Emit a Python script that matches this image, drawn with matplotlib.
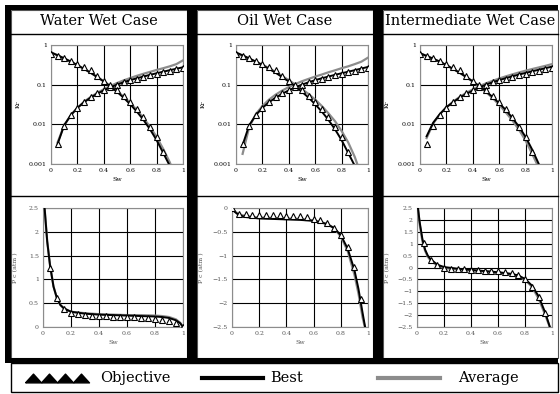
import matplotlib.pyplot as plt
from matplotlib.patches import Rectangle
from matplotlib.lines import Line2D

W, H = 560, 394

case_titles = ["Water Wet Case", "Oil Wet Case", "Intermediate Wet Case"]

# ---- relative permeability data ----
sw_krw = [0.05, 0.1, 0.15, 0.2, 0.25, 0.3, 0.35, 0.4, 0.45, 0.5,
          0.55, 0.6, 0.65, 0.7, 0.75, 0.8, 0.85, 0.9, 0.95, 1.0]
sw_kro = [0.0, 0.05, 0.1, 0.15, 0.2, 0.25, 0.3, 0.35, 0.4, 0.45,
          0.5, 0.55, 0.6, 0.65, 0.7, 0.75, 0.8, 0.85, 0.9, 0.95]

krw_obj = [0.0032, 0.009, 0.017, 0.026, 0.037, 0.048, 0.060, 0.073, 0.087, 0.100,
           0.115, 0.128, 0.142, 0.157, 0.172, 0.188, 0.205, 0.225, 0.245, 0.27]
kro_obj = [0.58, 0.52, 0.46, 0.40, 0.33, 0.28, 0.23, 0.17, 0.125, 0.097,
           0.075, 0.052, 0.037, 0.025, 0.015, 0.0087, 0.0049, 0.002]

krw_best = [
    [0.0032, 0.0095, 0.017, 0.026, 0.036, 0.047, 0.059, 0.072, 0.086, 0.10,
     0.115, 0.13, 0.145, 0.16, 0.177, 0.194, 0.212, 0.232, 0.252, 0.275],
    [0.003, 0.0095, 0.017, 0.026, 0.036, 0.047, 0.059, 0.072, 0.086, 0.10,
     0.115, 0.13, 0.145, 0.16, 0.177, 0.194, 0.212, 0.232, 0.255, 0.28],
    [0.005, 0.011, 0.018, 0.027, 0.036, 0.047, 0.058, 0.071, 0.085, 0.1,
     0.115, 0.13, 0.146, 0.162, 0.18, 0.198, 0.217, 0.238, 0.26, 0.285],
]
krw_avg = [
    [0.0035, 0.0095, 0.017, 0.026, 0.037, 0.049, 0.062, 0.077, 0.093, 0.11,
     0.128, 0.147, 0.167, 0.188, 0.21, 0.235, 0.26, 0.29, 0.33, 0.41],
    [0.0018, 0.0085, 0.018, 0.029, 0.042, 0.056, 0.071, 0.087, 0.104, 0.122,
     0.14, 0.16, 0.18, 0.205, 0.23, 0.26, 0.29, 0.33, 0.38, 0.48],
    [0.0045, 0.0105, 0.018, 0.027, 0.037, 0.049, 0.062, 0.076, 0.092, 0.108,
     0.125, 0.143, 0.162, 0.182, 0.203, 0.225, 0.248, 0.272, 0.298, 0.33],
]
kro_best = [
    [0.65, 0.55, 0.46, 0.38, 0.31, 0.25, 0.2, 0.155, 0.12, 0.09,
     0.066, 0.047, 0.032, 0.021, 0.013, 0.0075, 0.0040, 0.0019, 0.0009, 0.0003],
    [0.65, 0.55, 0.46, 0.38, 0.31, 0.25, 0.2, 0.155, 0.12, 0.09,
     0.066, 0.047, 0.032, 0.021, 0.013, 0.0075, 0.0040, 0.0019, 0.0009, 0.0003],
    [0.62, 0.53, 0.45, 0.38, 0.31, 0.25, 0.2, 0.157, 0.121, 0.092,
     0.068, 0.049, 0.034, 0.023, 0.0145, 0.0087, 0.0048, 0.0023, 0.001, 0.0003],
]
kro_avg = [
    [0.65, 0.55, 0.46, 0.38, 0.31, 0.25, 0.2, 0.157, 0.122, 0.093,
     0.069, 0.05, 0.035, 0.023, 0.0145, 0.0087, 0.0048, 0.0024, 0.0011, 0.0004],
    [0.62, 0.53, 0.45, 0.38, 0.32, 0.26, 0.21, 0.165, 0.13, 0.1,
     0.077, 0.058, 0.042, 0.029, 0.019, 0.012, 0.0068, 0.0035, 0.0015, 0.0005],
    [0.62, 0.53, 0.45, 0.38, 0.31, 0.25, 0.2, 0.155, 0.118, 0.089,
     0.065, 0.046, 0.031, 0.02, 0.0125, 0.0073, 0.0039, 0.0018, 0.0008, 0.0003],
]

# ---- capillary pressure data ----
pc_sw_obj = [
    [0.05, 0.1, 0.15, 0.2, 0.25, 0.3, 0.35, 0.4, 0.45, 0.5,
     0.55, 0.6, 0.65, 0.7, 0.75, 0.8, 0.85, 0.9, 0.95, 1.0],
    [0.0, 0.05, 0.1, 0.15, 0.2, 0.25, 0.3, 0.35, 0.4, 0.45,
     0.5, 0.55, 0.6, 0.65, 0.7, 0.75, 0.8, 0.85, 0.9, 0.95],
    [0.05, 0.1, 0.15, 0.2, 0.25, 0.3, 0.35, 0.4, 0.45, 0.5,
     0.55, 0.6, 0.65, 0.7, 0.75, 0.8, 0.85, 0.9, 0.95],
]
pc_obj = [
    [1.25, 0.6, 0.37, 0.3, 0.27, 0.25, 0.24, 0.24, 0.23, 0.22,
     0.21, 0.2, 0.2, 0.19, 0.18, 0.17, 0.15, 0.13, 0.09, 0.01],
    [0.0, -0.12, -0.13, -0.14, -0.14, -0.15, -0.15, -0.15, -0.16, -0.16,
     -0.17, -0.18, -0.23, -0.26, -0.32, -0.41, -0.56, -0.81, -1.23, -1.92],
    [1.02, 0.32, 0.12, -0.04, -0.06, -0.07, -0.08, -0.1, -0.12, -0.13,
     -0.13, -0.15, -0.17, -0.22, -0.33, -0.5, -0.8, -1.26, -1.9],
]
pc_sw_line = [
    [0.01, 0.03, 0.05, 0.075, 0.1, 0.125, 0.15, 0.2, 0.3, 0.4,
     0.5, 0.6, 0.7, 0.8, 0.85, 0.9, 0.95, 0.98, 1.0],
    [0.0, 0.02, 0.05, 0.1, 0.2, 0.3, 0.4, 0.5, 0.6, 0.65,
     0.7, 0.75, 0.8, 0.85, 0.9, 0.93, 0.96, 0.985],
    [0.005, 0.02, 0.04, 0.06, 0.08, 0.1, 0.15, 0.2, 0.3, 0.4,
     0.5, 0.6, 0.7, 0.75, 0.8, 0.85, 0.9, 0.95, 0.99],
]
pc_best = [
    [2.55, 1.8, 1.3, 0.85, 0.6, 0.46, 0.39, 0.32, 0.28, 0.26,
     0.25, 0.24, 0.23, 0.22, 0.21, 0.19, 0.14, 0.08, 0.0],
    [0.0, -0.08, -0.15, -0.19, -0.22, -0.23, -0.24, -0.25, -0.27, -0.3,
     -0.34, -0.42, -0.57, -0.85, -1.3, -1.7, -2.2, -2.6],
    [2.6, 1.9, 1.2, 0.75, 0.5, 0.35, 0.12, 0.02, -0.05, -0.1,
     -0.15, -0.2, -0.27, -0.33, -0.48, -0.75, -1.2, -1.9, -2.6],
]
pc_avg = [
    [2.55, 1.8, 1.3, 0.85, 0.6, 0.46, 0.39, 0.32, 0.29, 0.27,
     0.26, 0.25, 0.25, 0.24, 0.23, 0.21, 0.16, 0.09, 0.0],
    [0.0, -0.07, -0.13, -0.17, -0.2, -0.21, -0.22, -0.23, -0.26, -0.29,
     -0.34, -0.42, -0.6, -0.9, -1.4, -1.8, -2.3, -2.6],
    [2.6, 1.8, 1.1, 0.7, 0.45, 0.3, 0.08, -0.02, -0.08, -0.12,
     -0.16, -0.2, -0.28, -0.36, -0.52, -0.8, -1.3, -2.0, -2.6],
]
pc_ylims = [(0, 2.5), (-2.5, 0), (-2.5, 2.5)]

GRAY = "#8c8c8c"
plt.rcParams["font.family"] = ["DejaVu Serif"]

fig = plt.figure(figsize=(W / 100, H / 100), dpi=100)


def box(x0, y0, x1, y1, **kw):
    # rectangle given in pixel coords (top-left origin)
    r = Rectangle((x0 / W, 1 - y1 / H), (x1 - x0) / W, (y1 - y0) / H,
                  transform=fig.transFigure, **kw)
    fig.add_artist(r)


def axes_px(x0, y0, x1, y1):
    return fig.add_axes([x0 / W, 1 - y1 / H, (x1 - x0) / W, (y1 - y0) / H])


# panel frames
col_edges = [(11, 187), (197, 373), (383, 558)]
for x0, x1 in col_edges:
    box(x0, 10, x1, 358, fill=False, ec="#555555", lw=0.8)
    fig.add_artist(Line2D([x0 / W, x1 / W], [1 - 34 / H] * 2,
                          transform=fig.transFigure, color="black", lw=1.0))
    fig.add_artist(Line2D([x0 / W, x1 / W], [1 - 196 / H] * 2,
                          transform=fig.transFigure, color="black", lw=1.0))
# thick black bars
box(5, 5, 558, 10, color="black", lw=0)
box(5, 5, 11, 363, color="black", lw=0)
box(187, 5, 197, 363, color="black", lw=0)
box(373, 5, 383, 363, color="black", lw=0)
box(5, 358, 558, 363, color="black", lw=0)
box(11, 363, 558, 392, fill=False, ec="black", lw=1.0)

kr_px = [(51, 183), (236, 368), (420, 552)]
pc_px = [(43, 183), (232, 368), (417, 552)]
xt = [0, 0.2, 0.4, 0.6, 0.8, 1.0]
xtl = ["0", "0.2", "0.4", "0.6", "0.8", "1"]
MS = 5

for i in range(3):
    cx = (col_edges[i][0] + col_edges[i][1]) / 2
    fig.text(cx / W, 1 - 21 / H, case_titles[i], ha="center", va="center",
             fontsize=10.5)

    # Kr plot
    x0, x1 = kr_px[i]
    ax = axes_px(x0, 45, x1, 164)
    ax.set_yscale("log")
    ax.plot(sw_krw, krw_avg[i], color=GRAY, lw=1.6, zorder=3)
    ax.plot(sw_kro, kro_avg[i], color=GRAY, lw=1.6, zorder=3)
    ax.plot(sw_krw, krw_best[i], color="black", lw=1.4, zorder=4)
    ax.plot(sw_kro, kro_best[i], color="black", lw=1.4, zorder=4)
    ax.plot(sw_krw, krw_obj, ls="none", marker="^", ms=MS, mfc="white",
            mec="black", mew=0.8, zorder=5)
    ax.plot(sw_kro[:len(kro_obj)], kro_obj, ls="none", marker="^", ms=MS,
            mfc="white", mec="black", mew=0.8, zorder=5)
    ax.set_xlim(0, 1)
    ax.set_ylim(0.001, 1)
    ax.set_xticks(xt)
    ax.set_xticklabels(xtl)
    ax.set_yticks([0.001, 0.01, 0.1, 1])
    ax.set_yticklabels(["0.001", "0.01", "0.1", "1"])
    ax.minorticks_off()
    ax.grid(True, color="black", lw=0.8)
    ax.tick_params(length=0, labelsize=4.5, pad=3)
    for s in ax.spines.values():
        s.set_color(GRAY)
        s.set_linewidth(0.8)
    ax.set_xlabel("Sw", fontsize=4.5, labelpad=3)
    ax.set_ylabel("Kr", fontsize=4.5)
    ax.yaxis.set_label_coords(-30 / (x1 - x0), 0.5)

    # Pc plot
    x0, x1 = pc_px[i]
    ax2 = axes_px(x0, 208, x1, 327)
    ax2.plot(pc_sw_line[i], pc_avg[i], color=GRAY, lw=1.6, zorder=3)
    ax2.plot(pc_sw_line[i], pc_best[i], color="black", lw=1.4, zorder=4)
    ax2.plot(pc_sw_obj[i], pc_obj[i], ls="none", marker="^", ms=MS,
             mfc="white", mec="black", mew=0.8, zorder=5)
    lo, hi = pc_ylims[i]
    ax2.set_xlim(0, 1)
    ax2.set_ylim(lo, hi)
    ax2.set_xticks(xt)
    ax2.set_xticklabels(xtl)
    yt = [lo + 0.5 * k for k in range(int(round((hi - lo) / 0.5)) + 1)]
    ax2.set_yticks(yt)
    ax2.set_yticklabels([f"{v:g}".replace("-", "\u2212") for v in yt])
    ax2.grid(True, color="black", lw=0.8)
    ax2.tick_params(length=0, labelsize=4.5, pad=3, colors="#555555")
    for s in ax2.spines.values():
        s.set_color(GRAY)
        s.set_linewidth(0.8)
    ax2.set_xlabel("Sw", fontsize=4.5, labelpad=3, color="#555555")
    ax2.set_ylabel("P c (atm )", fontsize=4.5, color="#555555")
    ax2.yaxis.set_label_coords(-(x0 - col_edges[i][0] - 7) / (x1 - x0), 0.5)

# legend row
tri = [(-1, -0.55), (1, -0.55), (0, 0.55), (-1, -0.55)]
lax = axes_px(11, 363, 558, 392)
lax.set_xlim(11, 558)
lax.set_ylim(0, 1)
lax.axis("off")
lax.plot([33, 49, 65, 81], [0.5] * 4, ls="none", marker=tri, ms=11.5,
         color="black")
lax.text(100, 0.47, "Objective", fontsize=10.5, va="center")
lax.plot([202, 263], [0.5, 0.5], color="black", lw=3)
lax.text(270, 0.47, "Best", fontsize=10.5, va="center")
lax.plot([378, 440], [0.5, 0.5], color=GRAY, lw=3)
lax.text(458, 0.47, "Average", fontsize=10.5, va="center")

fig.savefig("out.png", dpi=100)
